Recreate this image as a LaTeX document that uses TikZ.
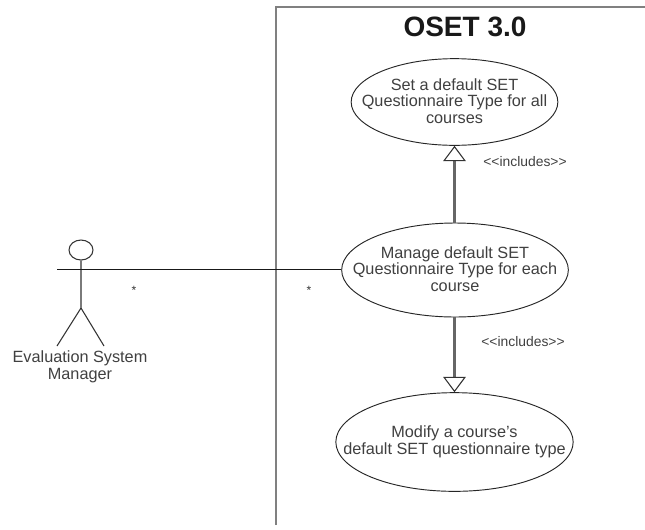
\documentclass[tikz,border=0pt]{standalone}
\usepackage{fontspec}
\setmainfont{Liberation Sans}
\usetikzlibrary{shapes.geometric,arrows.meta}
\tikzset{
  x=0.75pt,y=-0.75pt,
  usecase/.style={draw=black!85,ellipse,line width=0.7pt,fill=white,inner sep=0pt},
  uctext/.style={font=\fontsize{12.2pt}{12.4pt}\selectfont,text=black!75,align=center,inner sep=0pt},
  framed/.style={draw=black!50,line width=1.4pt},
  limb/.style={draw=black!80,line width=0.8pt},
  incl/.style={draw=black!60,line width=1.6pt,-{Triangle[open,length=11.5pt,width=17pt,line width=0.8pt,color=black!80]}},
  lbl/.style={font=\fontsize{10.4pt}{12pt}\selectfont,text=black!75,inner sep=0pt},
  stpt/.style={font=\fontsize{9pt}{10pt}\selectfont,text=black!80,inner sep=0pt},
  assoc/.style={draw=black!90,line width=0.8pt},
}
\begin{document}
\begin{tikzpicture}
\useasboundingbox (0,0) rectangle (645,529);
\coordinate (fa) at (276,525);
\coordinate (fb) at (276,7);
\coordinate (fc) at (645,7);
\draw[framed] (fa) -- (fb) -- (fc);
\node[font=\fontsize{21pt}{24pt}\selectfont\bfseries,text=black!90] (title) at (465,27) {OSET 3.0};
\node[usecase,minimum width=155pt,minimum height=65pt] (uc1) at (454.5,102) {};
\node[uctext] (uc1t) at (454.5,101) {Set a default SET\\Questionnaire Type for all\\courses};
\node[usecase,minimum width=170pt,minimum height=70.5pt] (uc2) at (455,270) {};
\node[uctext] (uc2t) at (455,269) {Manage default SET\\Questionnaire Type for each\\course};
\node[usecase,minimum width=178pt,minimum height=74pt] (uc3) at (454.5,442) {};
\node[uctext] (uc3t) at (454.5,442) {Modify a course's\\default SET questionnaire type};
\coordinate (up) at (454.5,223);
\coordinate (dn) at (454.5,317);
\draw[incl] (up) -- (uc1);
\draw[incl] (dn) -- (uc3);
\node[lbl] (l1) at (525,162) {<{}<includes>{}>};
\node[lbl] (l2) at (523,342) {<{}<includes>{}>};
% actor
\node[draw=black!80,ellipse,line width=0.8pt,minimum width=18pt,minimum height=15pt,inner sep=0pt] (head) at (81,250) {};
\coordinate (hip) at (81,308);
\coordinate (lf) at (57,346);
\coordinate (rf) at (104,346);
\coordinate (armL) at (57,269.5);
\draw[limb] (head) -- (hip) (lf) -- (hip) -- (rf);
\draw[assoc] (armL) -- (armL -| uc2.west);
\node[font=\fontsize{12.2pt}{12.6pt}\selectfont,text=black!75,align=center] (actor) at (80,367) {Evaluation System\\Manager};
\node[stpt] (s1) at (134,290) {*};
\node[stpt] (s2) at (309,290) {*};
\end{tikzpicture}
\end{document}
